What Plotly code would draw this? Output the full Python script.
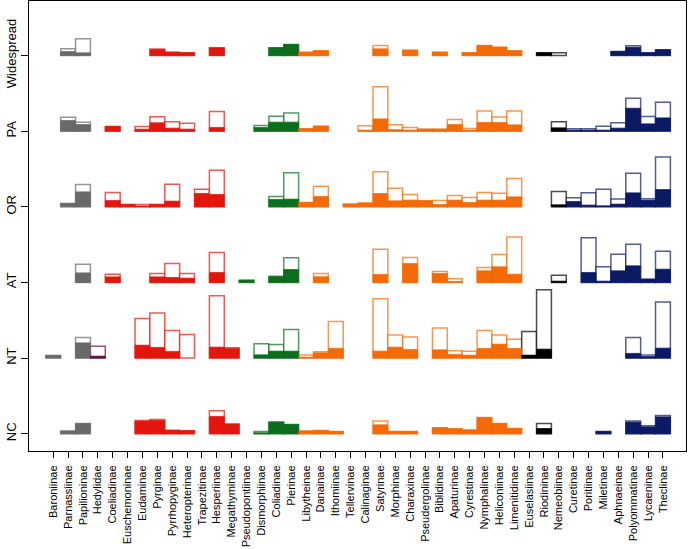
import plotly.graph_objects as go

subfamilies = ["Baroniinae", "Parnassiinae", "Papilioninae", "Hedylidae", "Coeliadinae",
               "Euschemoninae", "Eudaminae", "Pyrginae", "Pyrrhopyginae", "Heteropterinae",
               "Trapezitinae", "Hesperiinae", "Megathyminae", "Pseudopontiinae", "Dismorphiinae",
               "Coliadinae", "Pierinae", "Libytheinae", "Danainae", "Ithomiinae", "Tellervinae",
               "Calinaginae", "Satyrinae", "Morphinae", "Charaxinae", "Pseudergolinae",
               "Biblidinae", "Apaturinae", "Cyrestinae", "Nymphalinae", "Heliconiinae",
               "Limenitidinae", "Euselasiinae", "Riodininae", "Nemeobiinae", "Curetinae",
               "Poritiinae", "Miletinae", "Aphnaeinae", "Polyommatinae", "Lycaeninae", "Theclinae"]

families = (["Papilionidae"] * 3 + ["Hedylidae"] + ["Hesperiidae"] * 9 + ["Pieridae"] * 4
            + ["Nymphalidae"] * 15 + ["Riodinidae"] * 3 + ["Lycaenidae"] * 7)

regions = ["NC", "NT", "AT", "OR", "PA", "Widespread"]

# total (outline) and filled heights per region, keyed by subfamily
nc_total = {"Parnassiinae": 2.7, "Papilioninae": 10.3, "Eudaminae": 13.4, "Pyrginae": 14.4,
            "Pyrrhopyginae": 3.4, "Heteropterinae": 3, "Hesperiinae": 23, "Megathyminae": 9.7,
            "Dismorphiinae": 2.3, "Coliadinae": 11.7, "Pierinae": 9.3, "Libytheinae": 2.7,
            "Danainae": 3.3, "Ithomiinae": 2.3, "Satyrinae": 12.7, "Morphinae": 2.3,
            "Charaxinae": 2.3, "Biblidinae": 6, "Apaturinae": 5, "Cyrestinae": 3.7,
            "Nymphalinae": 16.3, "Heliconiinae": 10.3, "Limenitidinae": 5.3, "Riodininae": 10.3,
            "Miletinae": 2.3, "Polyommatinae": 12.7, "Lycaeninae": 8, "Theclinae": 18.3}
nc_filled = {"Parnassiinae": 2.7, "Papilioninae": 10.3, "Eudaminae": 12.7, "Pyrginae": 13.4,
             "Pyrrhopyginae": 3.4, "Heteropterinae": 3, "Hesperiinae": 17.4, "Megathyminae": 9.7,
             "Dismorphiinae": 1, "Coliadinae": 11.7, "Pierinae": 9.3, "Libytheinae": 2.7,
             "Danainae": 3.3, "Ithomiinae": 2.3, "Satyrinae": 9, "Morphinae": 2.3,
             "Charaxinae": 2.3, "Biblidinae": 6, "Apaturinae": 5, "Cyrestinae": 3.7,
             "Nymphalinae": 16.3, "Heliconiinae": 10.3, "Limenitidinae": 5.3, "Riodininae": 5.3,
             "Miletinae": 2.3, "Polyommatinae": 11.7, "Lycaeninae": 7, "Theclinae": 17}

nt_total = {"Baroniinae": 2.7, "Papilioninae": 20.7, "Hedylidae": 12, "Eudaminae": 39.7,
            "Pyrginae": 45.3, "Pyrrhopyginae": 27.7, "Heteropterinae": 23.7, "Hesperiinae": 62.7,
            "Megathyminae": 10.3, "Dismorphiinae": 14.3, "Coliadinae": 13.7, "Pierinae": 28.7,
            "Libytheinae": 3, "Danainae": 6.3, "Ithomiinae": 36.7, "Satyrinae": 59.7,
            "Morphinae": 23.3, "Charaxinae": 21.3, "Biblidinae": 30.3, "Apaturinae": 7.3,
            "Cyrestinae": 7, "Nymphalinae": 27.7, "Heliconiinae": 23.3, "Limenitidinae": 19,
            "Euselasiinae": 26.7, "Riodininae": 68.7, "Polyommatinae": 20.7, "Lycaeninae": 3,
            "Theclinae": 56.3}
nt_filled = {"Baroniinae": 2.7, "Papilioninae": 15.3, "Hedylidae": 2, "Eudaminae": 13,
             "Pyrginae": 10.7, "Pyrrhopyginae": 6.7, "Heteropterinae": 0, "Hesperiinae": 11,
             "Megathyminae": 9.7, "Dismorphiinae": 3.3, "Coliadinae": 7, "Pierinae": 7,
             "Libytheinae": 1, "Danainae": 5.3, "Ithomiinae": 9.7, "Satyrinae": 7,
             "Morphinae": 11, "Charaxinae": 8.7, "Biblidinae": 8.3, "Apaturinae": 3.7,
             "Cyrestinae": 3, "Nymphalinae": 9.7, "Heliconiinae": 14, "Limenitidinae": 9.7,
             "Euselasiinae": 3, "Riodininae": 9, "Polyommatinae": 4.7, "Lycaeninae": 1.7,
             "Theclinae": 10}

at_total = {"Papilioninae": 18.3, "Coeliadinae": 8.3, "Pyrginae": 9, "Pyrrhopyginae": 19,
            "Heteropterinae": 9, "Hesperiinae": 30, "Pseudopontiinae": 2.3, "Coliadinae": 6.3,
            "Pierinae": 24.7, "Danainae": 9, "Satyrinae": 33.3, "Charaxinae": 25,
            "Biblidinae": 11, "Apaturinae": 3.7, "Nymphalinae": 15, "Heliconiinae": 28,
            "Limenitidinae": 45.7, "Nemeobiinae": 7.3, "Poritiinae": 45, "Miletinae": 15.7,
            "Aphnaeinae": 28.3, "Polyommatinae": 38.3, "Lycaeninae": 3.3, "Theclinae": 31.3}
at_filled = {"Papilioninae": 9.6, "Coeliadinae": 5.6, "Pyrginae": 5.6, "Pyrrhopyginae": 5,
             "Heteropterinae": 4.3, "Hesperiinae": 10, "Pseudopontiinae": 2.3, "Coliadinae": 5.7,
             "Pierinae": 13, "Danainae": 5.7, "Satyrinae": 8, "Charaxinae": 19,
             "Biblidinae": 9, "Apaturinae": 1, "Nymphalinae": 11.7, "Heliconiinae": 15.7,
             "Limenitidinae": 8.3, "Nemeobiinae": 1.3, "Poritiinae": 10, "Miletinae": 1.3,
             "Aphnaeinae": 11.7, "Polyommatinae": 16.7, "Lycaeninae": 3.3, "Theclinae": 13.3}

or_total = {"Parnassiinae": 3.4, "Papilioninae": 22.4, "Coeliadinae": 14.4, "Euschemoninae": 2.4,
            "Eudaminae": 2.4, "Pyrginae": 2.4, "Pyrrhopyginae": 22.7, "Trapezitinae": 17.7,
            "Hesperiinae": 36.7, "Coliadinae": 10.3, "Pierinae": 34.3, "Libytheinae": 4.3,
            "Danainae": 20.7, "Tellervinae": 2.7, "Calinaginae": 3.7, "Satyrinae": 35.3,
            "Morphinae": 18.7, "Charaxinae": 12.3, "Pseudergolinae": 6, "Biblidinae": 6.3,
            "Apaturinae": 11.3, "Cyrestinae": 9.3, "Nymphalinae": 14.3, "Heliconiinae": 13.7,
            "Limenitidinae": 28.3, "Nemeobiinae": 15.3, "Curetinae": 9, "Poritiinae": 14,
            "Miletinae": 17.7, "Aphnaeinae": 7.7, "Polyommatinae": 33.7, "Lycaeninae": 8,
            "Theclinae": 50}
or_filled = {"Parnassiinae": 3.4, "Papilioninae": 15, "Coeliadinae": 6.4, "Euschemoninae": 2.4,
             "Eudaminae": 0.8, "Pyrginae": 2.4, "Pyrrhopyginae": 5.7, "Trapezitinae": 13.4,
             "Hesperiinae": 12.4, "Coliadinae": 7.3, "Pierinae": 7.7, "Libytheinae": 4.3,
             "Danainae": 10.3, "Tellervinae": 2.7, "Calinaginae": 3.7, "Satyrinae": 13.3,
             "Morphinae": 6, "Charaxinae": 6.7, "Pseudergolinae": 6, "Biblidinae": 2.3,
             "Apaturinae": 6.7, "Cyrestinae": 4.3, "Nymphalinae": 6.7, "Heliconiinae": 6.7,
             "Limenitidinae": 10, "Nemeobiinae": 2, "Curetinae": 5.3, "Poritiinae": 1.7,
             "Miletinae": 1, "Aphnaeinae": 2.7, "Polyommatinae": 14, "Lycaeninae": 6.7,
             "Theclinae": 17.3}

pa_total = {"Parnassiinae": 14, "Papilioninae": 9, "Coeliadinae": 4.7, "Eudaminae": 4.7,
            "Pyrginae": 14.4, "Pyrrhopyginae": 9.4, "Heteropterinae": 8, "Hesperiinae": 19.7,
            "Dismorphiinae": 5.7, "Coliadinae": 15, "Pierinae": 18.3, "Libytheinae": 2.3,
            "Danainae": 5, "Calinaginae": 5.3, "Satyrinae": 44.7, "Morphinae": 6.3,
            "Charaxinae": 3.7, "Pseudergolinae": 2, "Biblidinae": 2, "Apaturinae": 11.7,
            "Cyrestinae": 2.7, "Nymphalinae": 20.3, "Heliconiinae": 14.3, "Limenitidinae": 20.3,
            "Nemeobiinae": 9.3, "Curetinae": 2.3, "Poritiinae": 2.3, "Miletinae": 5,
            "Aphnaeinae": 8.3, "Polyommatinae": 33, "Lycaeninae": 14.7, "Theclinae": 29}
pa_filled = {"Parnassiinae": 10.7, "Papilioninae": 6.7, "Coeliadinae": 4.7, "Eudaminae": 2,
             "Pyrginae": 8.4, "Pyrrhopyginae": 3, "Heteropterinae": 2, "Hesperiinae": 3.7,
             "Dismorphiinae": 3.7, "Coliadinae": 9, "Pierinae": 9, "Libytheinae": 2.3,
             "Danainae": 5, "Calinaginae": 1, "Satyrinae": 12.3, "Morphinae": 1.5,
             "Charaxinae": 1, "Pseudergolinae": 2, "Biblidinae": 2, "Apaturinae": 6.7,
             "Cyrestinae": 1, "Nymphalinae": 8.7, "Heliconiinae": 8.7, "Limenitidinae": 6.3,
             "Nemeobiinae": 3.3, "Curetinae": 1, "Poritiinae": 1, "Miletinae": 1,
             "Aphnaeinae": 3, "Polyommatinae": 23, "Lycaeninae": 7.3, "Theclinae": 13.3}

ws_total = {"Parnassiinae": 6.7, "Papilioninae": 16.7, "Pyrginae": 6.5, "Pyrrhopyginae": 3.3,
            "Heteropterinae": 2.7, "Hesperiinae": 7.7, "Coliadinae": 7.7, "Pierinae": 11,
            "Libytheinae": 3.3, "Danainae": 4.7, "Satyrinae": 10, "Charaxinae": 5.3,
            "Biblidinae": 3.3, "Cyrestinae": 2.7, "Nymphalinae": 10, "Heliconiinae": 8.3,
            "Limenitidinae": 4.7, "Riodininae": 2.7, "Nemeobiinae": 2.7, "Aphnaeinae": 4,
            "Polyommatinae": 9.7, "Lycaeninae": 2.7, "Theclinae": 5.7}
ws_filled = {"Parnassiinae": 4, "Papilioninae": 2.7, "Pyrginae": 6, "Pyrrhopyginae": 3.3,
             "Heteropterinae": 2.7, "Hesperiinae": 7.7, "Coliadinae": 7.7, "Pierinae": 11,
             "Libytheinae": 3.3, "Danainae": 4.7, "Satyrinae": 6.7, "Charaxinae": 5.3,
             "Biblidinae": 3.3, "Cyrestinae": 2.7, "Nymphalinae": 10, "Heliconiinae": 8.3,
             "Limenitidinae": 4.7, "Riodininae": 2.7, "Nemeobiinae": 0, "Aphnaeinae": 4,
             "Polyommatinae": 8.3, "Lycaeninae": 2.7, "Theclinae": 5.7}

totals = [nc_total, nt_total, at_total, or_total, pa_total, ws_total]
filleds = [nc_filled, nt_filled, at_filled, or_filled, pa_filled, ws_filled]

family_rgb = {"Papilionidae": (105, 105, 105), "Hedylidae": (100, 15, 70),
              "Hesperiidae": (226, 22, 12), "Pieridae": (12, 110, 28),
              "Nymphalidae": (243, 106, 7), "Riodinidae": (0, 0, 0),
              "Lycaenidae": (12, 25, 100)}

HEIGHT_SCALE = 1 / 76.0  # one row spacing = 76 value units

fig = go.Figure()
for r, (tot, fil) in enumerate(zip(totals, filleds)):
    names = [s for s in subfamilies if s in tot]
    xs = [subfamilies.index(s) for s in names]
    rgbs = [family_rgb[families[i]] for i in xs]
    solid = ["rgb(%d,%d,%d)" % c for c in rgbs]
    soft = ["rgba(%d,%d,%d,0.7)" % c for c in rgbs]
    fig.add_trace(go.Bar(
        x=xs, y=[tot[s] * HEIGHT_SCALE for s in names], base=[r] * len(xs), width=1,
        marker=dict(color="white", line=dict(color=soft, width=1.5)),
        showlegend=False, hoverinfo="skip"))
    fx = [x for x, s in zip(xs, names) if fil[s] > 0]
    fn = [s for s in names if fil[s] > 0]
    fc = [c for c, s in zip(solid, names) if fil[s] > 0]
    fs = [c for c, s in zip(soft, names) if fil[s] > 0]
    fig.add_trace(go.Bar(
        x=fx, y=[fil[s] * HEIGHT_SCALE for s in fn], base=[r] * len(fx), width=1,
        marker=dict(color=fc, line=dict(color=fs, width=1)),
        showlegend=False, hoverinfo="skip"))

font = "Liberation Sans, Arial, Helvetica, sans-serif"
fig.update_layout(
    width=689, height=549, barmode="overlay",
    margin=dict(l=29, r=3, t=1, b=98, autoexpand=False),
    plot_bgcolor="white", paper_bgcolor="white",
    font=dict(family=font, color="black"),
    xaxis=dict(range=[-1.63, 42.55], tickmode="array", tickvals=list(range(len(subfamilies))),
               ticktext=subfamilies, tickangle=-90, ticks="outside", ticklen=6,
               ticklabelstandoff=3,
               tickcolor="black", tickfont=dict(size=11, family=font), automargin=False,
               showline=True, linecolor="black", linewidth=1, mirror=True,
               showgrid=False, zeroline=False),
    yaxis=dict(range=[-0.228, 5.72], tickmode="array", tickvals=list(range(len(regions))),
               ticktext=regions, tickangle=-90, ticks="outside", ticklen=7,
               tickcolor="black", tickfont=dict(size=13, family=font), automargin=False,
               showline=True, linecolor="black", linewidth=1, mirror=True,
               showgrid=False, zeroline=False),
)

fig.write_html("out.html", config={"displayModeBar": False},
               post_script="document.body.style.margin='0';document.body.style.overflow='hidden';")
